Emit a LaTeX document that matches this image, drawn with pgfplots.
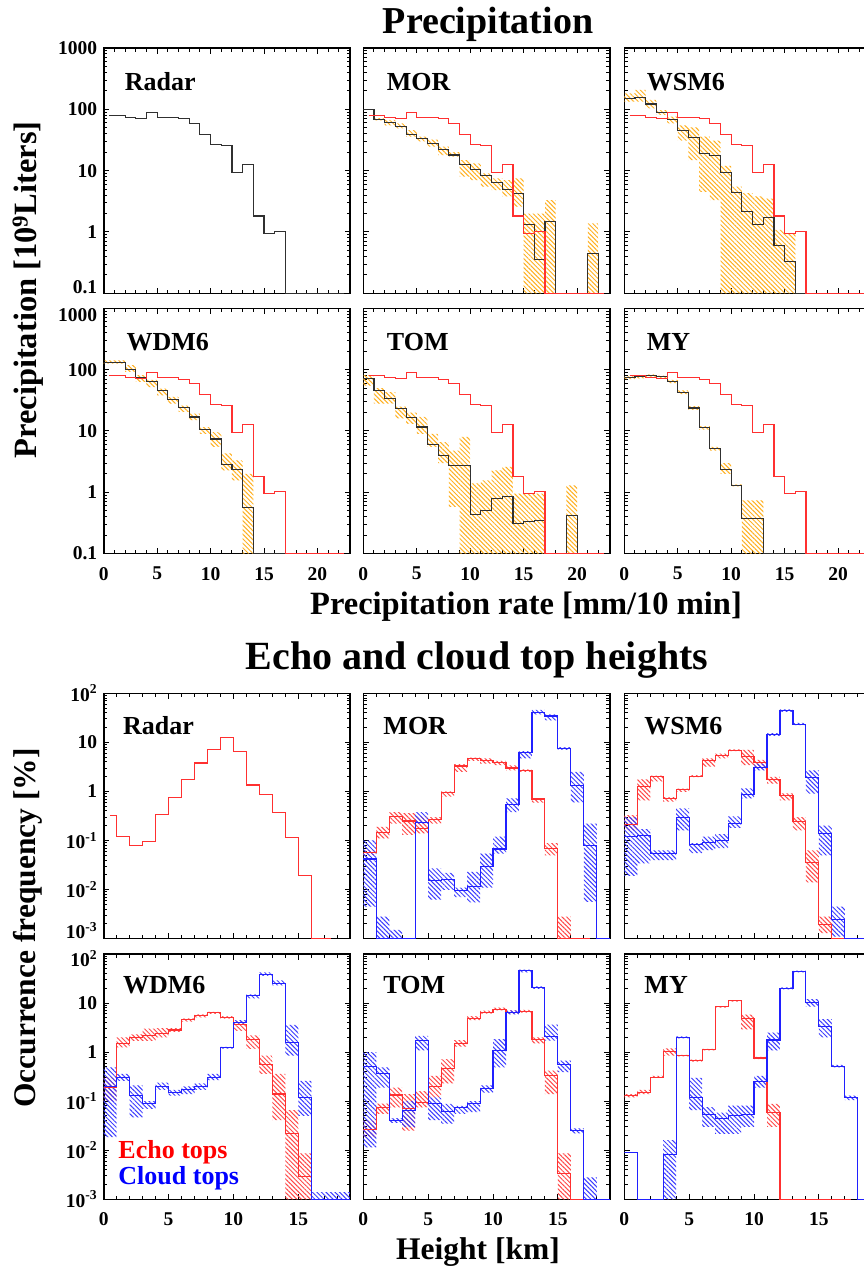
\documentclass[border=0pt]{standalone}
\usepackage{fontspec}
\setmainfont{Liberation Serif}
\usepackage{pgfplots}
\pgfplotsset{compat=1.18}
\usepackage{pgfplotstable}
\usepgfplotslibrary{fillbetween}
\usetikzlibrary{patterns.meta}

\definecolor{lred}{HTML}{FF3030}
\definecolor{lblue}{HTML}{2020FF}
\definecolor{horange}{HTML}{FFB020}
\definecolor{hred}{HTML}{FF4848}
\definecolor{hblue}{HTML}{3C3CFF}
\definecolor{lblack}{HTML}{303030}

\newcommand{\fs}[1]{\fontsize{#1}{#1}\selectfont\bfseries}
\newcommand{\lowlab}[1]{\raisebox{0pt}[0pt][0pt]{#1}}
\newcommand{\highlab}[1]{\raisebox{-12.8pt}[0pt][0pt]{#1}}

% ---------------- Precipitation (x = left edge of bin) ----------------
\pgfplotstableread{
x y
0.5 80
1 80
2 74
3 71
4 89
5 74
6 74
7 70
8 59
9 39
10 27
11 26
12 9.4
13 12.7
14 1.82
15 0.95
16 1.03
17 0.1
22.5 0.1
}\tRadarP

\pgfplotstableread{
x y lo hi
0 100 100 100
1 69 66 72
2 62 55 67
3 52 49 59
4 39 36 46
5 33 30 36
6 28 24.6 32
7 22 18 24.6
8 18 17 20
9 12.4 8 14.9
10 10.3 7 13.2
11 8.4 5.5 9
12 6.4 4.8 7.5
13 4.9 3.8 7
14 4.3 2.6 7.5
15 1.33 0.1 2.0
16 0.35 0.1 2.0
17 1.48 0.1 3.3
18 0.1 0.1 0.1
21 0.45 0.1 1.38
22 0.1 0.1 0.1
22.5 0.1 0.1 0.1
}\tMORp

\pgfplotstableread{
x y lo hi
0 149 133 182
1 157 133 207
2 122 104 142
3 88 81 97
4 69 59 76
5 45 31 55
6 35 14.9 51
7 19.2 4.5 36
8 17.8 3.3 31
9 9.4 0.1 12
10 4.4 0.1 5.5
11 2.17 0.1 4.3
12 1.33 0.1 3.8
13 1.73 0.1 3.5
14 0.61 0.1 1.08
15 0.33 0.1 0.95
16 0.1 0.1 0.1
22.5 0.1 0.1 0.1
}\tWSMp

\pgfplotstableread{
x y lo hi
0 130 125 142
1 130 125 142
2 100 92 118
3 74 63 81
4 64.5 52 68
5 45 38 49
6 32.4 28 35.8
7 24 20.4 26
8 16.9 15 19.2
9 10.5 9 11.6
10 7.4 5.5 9.6
11 2.86 2.28 4.3
12 2.35 1.57 3.3
13 0.56 0.1 2.0
14 0.1 0.1 0.1
22.5 0.1 0.1 0.1
}\tWDMp

\pgfplotstableread{
x y lo hi
0 71 55 81
1 46 28 50
2 33.6 28 43
3 23 16 25
4 16.5 13 20
5 11.6 9 17
6 6.1 5.5 9
7 4.0 3.0 6.6
8 2.7 0.58 4.8
9 2.75 0.1 8
10 0.44 0.1 1.4
11 0.51 0.1 1.57
12 0.79 0.1 2.28
13 0.86 0.1 2.59
14 0.31 0.1 0.95
15 0.33 0.1 0.95
16 0.35 0.1 0.95
17 0.1 0.1 0.1
19 0.42 0.1 1.3
20 0.1 0.1 0.1
22.5 0.1 0.1 0.1
}\tTOMp

\pgfplotstableread{
x y lo hi
0 74 70 78
1 76 72 80
2 80 76 84
3 76 72 80
4 64.5 60 68
5 43 40 46
6 23.7 22 25.5
7 11.2 10.5 12
8 5.15 4.8 5.5
9 2.37 2.0 3.0
10 1.3 1.25 1.35
11 0.37 0.1 0.74
12 0.38 0.1 0.74
13 0.1 0.1 0.1
22.5 0.1 0.1 0.1
}\tMYp

% ---------------- Echo / cloud tops (x = left edge of 1 km bin) ----------------
\pgfplotstableread{
x y
0.5 0.32
1 0.123
2 0.079
3 0.095
4 0.34
5 0.75
6 1.76
7 3.8
8 7.2
9 12.6
10 6.6
11 1.35
12 0.87
13 0.37
14 0.115
15 0.019
16 0.001
17.5 0.001
}\tRadarE

\pgfplotstableread{
x y lo hi
0 0.057 0.050 0.064
1 0.146 0.11 0.19
2 0.31 0.22 0.38
3 0.25 0.13 0.36
4 0.173 0.14 0.31
5 0.27 0.22 0.30
6 0.97 0.78 1.0
7 3.3 2.5 3.6
8 4.7 4.2 4.9
9 4.2 3.7 4.7
10 3.9 3.45 4.2
11 3.0 2.7 3.4
12 2.7 2.5 2.8
13 0.70 0.59 0.72
14 0.069 0.050 0.088
15 0.001 0.001 0.0028
16 0.001 0.001 0.001
17.5 0.001 0.001 0.001
}\tMORe

\pgfplotstableread{
x y lo hi
0 0.042 0.0045 0.10
1 0.001 0.001 0.0028
2 0.001 0.001 0.0015
3 0.001 0.001 0.001
4 0.23 0.22 0.38
5 0.0155 0.0062 0.027
6 0.0163 0.0098 0.022
7 0.0094 0.0070 0.011
8 0.0117 0.0055 0.023
9 0.030 0.011 0.054
10 0.067 0.054 0.12
11 0.55 0.38 0.72
12 6.2 4.7 6.6
13 41 37 46
14 34.5 28 37
15 7.5 7 8
16 1.3 0.6 2.5
17 0.080 0.0056 0.22
18 0.001 0.001 0.001
19 0.001 0.001 0.001
}\tMORc

\pgfplotstableread{
x y lo hi
0 0.21 0.16 0.33
1 1.26 0.66 1.76
2 2.05 1.6 2.1
3 0.72 0.62 0.77
4 1.1 0.98 1.14
5 2.05 1.95 2.15
6 4.2 3.2 4.7
7 5.4 4.7 5.9
8 6.9 6.6 7.2
9 5.25 3.45 7.0
10 3.85 2.9 4.4
11 1.76 1.45 1.98
12 0.81 0.66 0.91
13 0.24 0.16 0.30
14 0.036 0.014 0.063
15 0.0019 0.0013 0.0028
16 0.001 0.001 0.001
17.5 0.001 0.001 0.001
}\tWSMe

\pgfplotstableread{
x y lo hi
0 0.12 0.019 0.30
1 0.125 0.034 0.17
2 0.054 0.040 0.063
3 0.054 0.040 0.063
4 0.29 0.16 0.45
5 0.082 0.055 0.088
6 0.09 0.064 0.12
7 0.1 0.07 0.135
8 0.22 0.18 0.31
9 0.87 0.72 1.15
10 3.1 2.7 3.7
11 14.6 13.5 15.5
12 44 42 47
13 23.6 22.5 25
14 1.94 0.9 2.7
15 0.136 0.05 0.2
16 0.0025 0.0011 0.0045
17 0.001 0.001 0.001
19 0.001 0.001 0.001
}\tWSMc

\pgfplotstableread{
x y lo hi
0 0.19 0.10 0.31
1 1.51 1.25 2.0
2 2.0 1.7 2.3
3 2.15 1.7 3.0
4 2.42 2.0 3.1
5 2.82 2.6 3.1
6 4.6 4.2 4.9
7 5.5 5.1 5.9
8 6.3 6.0 6.6
9 5.1 4.8 5.4
10 3.6 2.7 4.3
11 1.8 1.16 2.2
12 0.57 0.36 0.85
13 0.14 0.041 0.36
14 0.0215 0.001 0.066
15 0.0029 0.001 0.0086
16 0.001 0.001 0.001
17.5 0.001 0.001 0.001
}\tWDMe

\pgfplotstableread{
x y lo hi
0 0.2 0.0186 0.49
1 0.31 0.26 0.36
2 0.13 0.047 0.21
3 0.088 0.07 0.1
4 0.2 0.17 0.24
5 0.15 0.13 0.17
6 0.17 0.14 0.2
7 0.2 0.17 0.23
8 0.31 0.27 0.36
9 1.22 1.18 1.28
10 4.1 3.8 4.5
11 14 12.5 15
12 39 36 42
13 25 23 29
14 1.58 0.85 3.6
15 0.12 0.05 0.26
16 0.001 0.001 0.0014
19 0.001 0.001 0.001
}\tWDMc

\pgfplotstableread{
x y lo hi
0 0.027 0.0186 0.040
1 0.0755 0.055 0.089
2 0.134 0.075 0.19
3 0.070 0.025 0.14
4 0.095 0.075 0.16
5 0.20 0.12 0.33
6 0.47 0.23 0.72
7 1.53 1.3 1.75
8 4.95 4.5 5.4
9 6.45 6.1 7.0
10 7.55 7.1 8.1
11 6.45 6.0 7.1
12 6.8 6.4 7.3
13 1.8 1.5 2.0
14 0.33 0.14 0.42
15 0.0033 0.001 0.0086
16 0.001 0.001 0.001
17.5 0.001 0.001 0.001
}\tTOMe

\pgfplotstableread{
x y lo hi
0 0.51 0.0115 1.0
1 0.36 0.19 0.49
2 0.040 0.036 0.045
3 0.065 0.0295 0.102
4 1.71 1.08 2.15
5 0.088 0.041 0.12
6 0.062 0.035 0.088
7 0.0755 0.055 0.08
8 0.091 0.06 0.1
9 0.18 0.15 0.21
10 1.1 0.49 1.85
11 6.45 5.9 7.1
12 45.5 42 48
13 20.8 19.5 22
14 2.07 1.71 3.65
15 0.56 0.39 0.67
16 0.0253 0.022 0.028
17 0.001 0.001 0.0028
18 0.001 0.001 0.001
19 0.001 0.001 0.001
}\tTOMc

\pgfplotstableread{
x y lo hi
0 0.13 0.12 0.14
1 0.152 0.14 0.17
2 0.31 0.30 0.33
3 1.02 0.85 1.2
4 0.85 0.82 0.88
5 0.67 0.64 0.70
6 1.12 1.08 1.16
7 8.4 8.1 8.7
8 11.1 10.7 11.5
9 4.95 2.9 5.8
10 0.76 0.72 0.80
11 0.058 0.03 0.088
12 0.001 0.001 0.001
17.5 0.001 0.001 0.001
}\tMYe

\pgfplotstableread{
x y lo hi
0 0.0089 0.0089 0.0089
1 0.001 0.001 0.001
3 0.0081 0.001 0.016
4 2.0 1.9 2.1
5 0.12 0.066 0.3
6 0.054 0.03 0.0755
7 0.044 0.0215 0.0585
8 0.051 0.0215 0.081
9 0.054 0.03 0.081
10 0.255 0.19 0.33
11 1.77 1.08 2.5
12 19.9 19 21
13 44 42 46
14 10.3 8.5 12
15 3.3 2.0 4.7
16 0.515 0.49 0.55
17 0.117 0.105 0.13
18 0.001 0.001 0.001
19 0.001 0.001 0.001
}\tMYc

\newcommand{\hist}[2]{\addplot[const plot, color=#2, line width=1.1pt, forget plot] table[x=x,y=y]{#1};}
\newcommand{\band}[3]{%
  \addplot[const plot, draw=none, forget plot, name path=lo#3] table[x=x,y=lo]{#1};
  \addplot[const plot, draw=none, forget plot, name path=hi#3] table[x=x,y=hi]{#1};
  \addplot[draw=none, forget plot, pattern={Lines[angle=-45,distance=3.2pt,line width=1pt]}, pattern color=#2] fill between[of=hi#3 and lo#3];}

\tikzset{plab/.style={anchor=base west, font=\fs{26}, inner sep=0pt}}

\pgfplotsset{
  every axis/.append style={scale only axis, width=246.5pt, height=245.3pt, anchor=north west,
    axis line style={line width=1.6pt}, tick style={line width=1pt, black},
    major tick length=5.5pt, minor tick length=3.5pt, tick align=inside,
    xtick pos=both, ytick pos=both, xticklabel pos=lower, yticklabel pos=left,
    ticklabel style={font=\fs{19.5}},
    yticklabel style={xshift=-3pt}, xticklabel style={yshift=-10pt},
    xticklabels={}, yticklabels={}},
  myTop/.style={xmin=0, xmax=23.06, ymin=0.1, ymax=1000,
    xtick={0,5,10,15,20}, minor xtick={0,1,...,23},
    ytick={0.1,1,10,100,1000},
    minor ytick={0.2,0.3,0.4,0.5,0.6,0.7,0.8,0.9,2,3,4,5,6,7,8,9,20,30,40,50,60,70,80,90,200,300,400,500,600,700,800,900}},
  myBot/.style={xmin=0, xmax=19, ymin=0.001, ymax=100,
    xtick={0,5,10,15}, minor xtick={0,1,...,19},
    ytick={0.001,0.01,0.1,1,10,100},
    minor ytick={0.002,0.003,0.004,0.005,0.006,0.007,0.008,0.009,0.02,0.03,0.04,0.05,0.06,0.07,0.08,0.09,0.2,0.3,0.4,0.5,0.6,0.7,0.8,0.9,2,3,4,5,6,7,8,9,20,30,40,50,60,70,80,90}},
  myYlabTopA/.style={yticklabels={{\lowlab{0.1}},1,10,100,1000}},
  myYlabTopB/.style={yticklabels={0.1,1,10,100,{\highlab{1000}}}},
  myYlabBotA/.style={yticklabels={{\lowlab{10\textsuperscript{-3}}},10\textsuperscript{-2},10\textsuperscript{-1},1,10,10\textsuperscript{2}}},
  myYlabBotB/.style={yticklabels={10\textsuperscript{-3},10\textsuperscript{-2},10\textsuperscript{-1},1,10,{\highlab{10\textsuperscript{2}}}}},
}

\begin{document}
\begin{tikzpicture}[x=1pt,y=1pt]

% ===== Titles and labels =====
\node[font=\fs{38}, anchor=base] at (488,-33.3) {Precipitation};
\node[font=\fs{40}] at (477,-660) {Echo and cloud top heights};
\node[font=\fs{32.5}] at (526,-607) {Precipitation rate [mm/10 min]};
\node[font=\fs{31.5}] at (478,-1252) {Height [km]};
\node[font=\fs{32.5}, rotate=90] at (28,-290) {Precipitation [10\textsuperscript{9}Liters]};
\node[font=\fs{31.5}, rotate=90] at (28,-928) {Occurrence frequency [\%]};

% ===== Precipitation panels =====
\begin{semilogyaxis}[myTop, myYlabTopA, at={(103.7pt,-48pt)}]
  \hist{\tRadarP}{lblack}
  \node[plab] at (rel axis cs:0.085,0.826) {Radar};
\end{semilogyaxis}
\begin{semilogyaxis}[myTop, at={(363.3pt,-48pt)}]
  \band{\tMORp}{horange}{a}
  \hist{\tMORp}{lblack}
  \hist{\tRadarP}{lred}
  \node[plab] at (rel axis cs:0.095,0.826) {MOR};
\end{semilogyaxis}
\begin{semilogyaxis}[myTop, at={(624.3pt,-48pt)}]
  \band{\tWSMp}{horange}{a}
  \hist{\tWSMp}{lblack}
  \hist{\tRadarP}{lred}
  \node[plab] at (rel axis cs:0.091,0.826) {WSM6};
\end{semilogyaxis}
\begin{semilogyaxis}[myTop, myYlabTopB, xticklabels={0,5,10,15,20}, at={(103.7pt,-308.3pt)}]
  \band{\tWDMp}{horange}{a}
  \hist{\tWDMp}{lblack}
  \hist{\tRadarP}{lred}
  \node[plab] at (rel axis cs:0.092,0.827) {WDM6};
\end{semilogyaxis}
\begin{semilogyaxis}[myTop, xticklabels={0,5,10,15,20}, at={(363.3pt,-308.3pt)}]
  \band{\tTOMp}{horange}{a}
  \hist{\tTOMp}{lblack}
  \hist{\tRadarP}{lred}
  \node[plab] at (rel axis cs:0.095,0.827) {TOM};
\end{semilogyaxis}
\begin{semilogyaxis}[myTop, xticklabels={0,5,10,15,20}, at={(624.3pt,-308.3pt)}]
  \band{\tMYp}{horange}{a}
  \hist{\tMYp}{lblack}
  \hist{\tRadarP}{lred}
  \node[plab] at (rel axis cs:0.091,0.827) {MY};
\end{semilogyaxis}

% ===== Echo / cloud top panels =====
\begin{semilogyaxis}[myBot, myYlabBotA, at={(103.7pt,-693.3pt)}]
  \hist{\tRadarE}{lred}
  \node[plab] at (rel axis cs:0.078,0.834) {Radar};
\end{semilogyaxis}
\begin{semilogyaxis}[myBot, at={(363.3pt,-693.3pt)}]
  \band{\tMORe}{hred}{a}
  \band{\tMORc}{hblue}{b}
  \hist{\tMORe}{lred}
  \hist{\tMORc}{lblue}
  \node[plab] at (rel axis cs:0.081,0.834) {MOR};
\end{semilogyaxis}
\begin{semilogyaxis}[myBot, at={(624.3pt,-693.3pt)}]
  \band{\tWSMe}{hred}{a}
  \band{\tWSMc}{hblue}{b}
  \hist{\tWSMe}{lred}
  \hist{\tWSMc}{lblue}
  \node[plab] at (rel axis cs:0.081,0.834) {WSM6};
\end{semilogyaxis}
\begin{semilogyaxis}[myBot, myYlabBotB, xticklabels={0,5,10,15}, at={(103.7pt,-954pt)}]
  \band{\tWDMe}{hred}{a}
  \band{\tWDMc}{hblue}{b}
  \hist{\tWDMe}{lred}
  \hist{\tWDMc}{lblue}
  \node[plab] at (rel axis cs:0.078,0.837) {WDM6};
  \node[plab, text=red] at (rel axis cs:0.059,0.168) {Echo tops};
  \node[plab, text=blue] at (rel axis cs:0.059,0.059) {Cloud tops};
\end{semilogyaxis}
\begin{semilogyaxis}[myBot, xticklabels={0,5,10,15}, at={(363.3pt,-954pt)}]
  \band{\tTOMe}{hred}{a}
  \band{\tTOMc}{hblue}{b}
  \hist{\tTOMe}{lred}
  \hist{\tTOMc}{lblue}
  \node[plab] at (rel axis cs:0.081,0.837) {TOM};
\end{semilogyaxis}
\begin{semilogyaxis}[myBot, xticklabels={0,5,10,15}, at={(624.3pt,-954pt)}]
  \band{\tMYe}{hred}{a}
  \band{\tMYc}{hblue}{b}
  \hist{\tMYe}{lred}
  \hist{\tMYc}{lblue}
  \node[plab] at (rel axis cs:0.081,0.837) {MY};
\end{semilogyaxis}
\pgfresetboundingbox
\useasboundingbox (0,0) rectangle (864,-1278);
\end{tikzpicture}
\end{document}
